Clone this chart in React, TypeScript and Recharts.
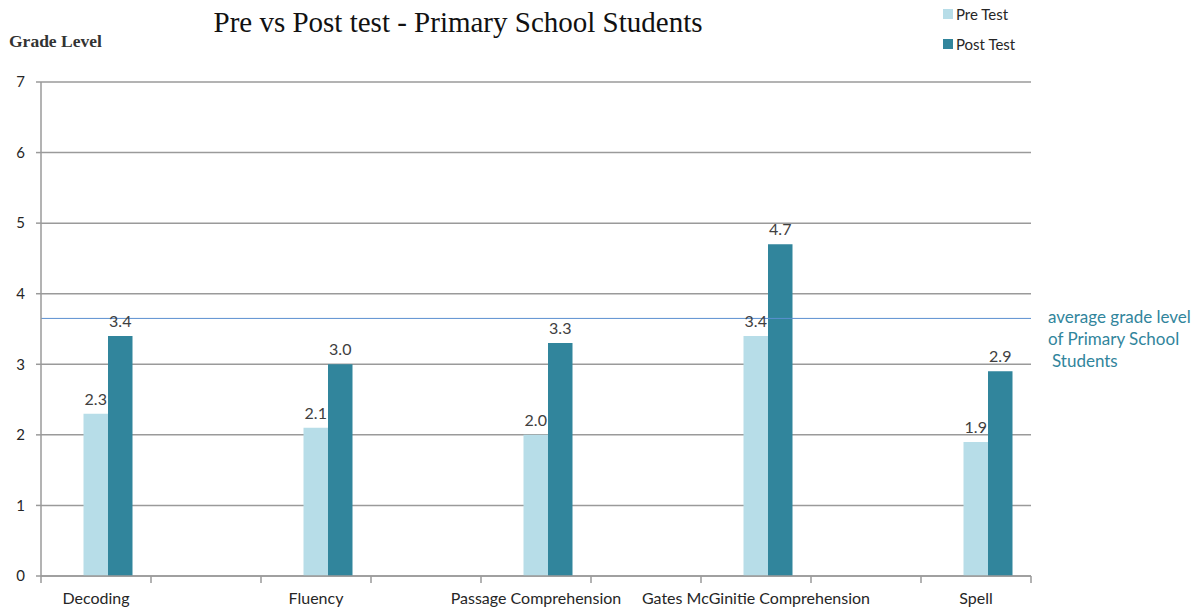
import { BarChart, Bar, XAxis, YAxis, CartesianGrid, ReferenceLine, LabelList } from "recharts";

const categories = ["Decoding", "Fluency", "Passage Comprehension", "Gates McGinitie Comprehension", "Spell"];
const preTest = [2.3, 2.1, 2.0, 3.4, 1.9];
const postTest = [3.4, 3.0, 3.3, 4.7, 2.9];
const yTicks = [0, 1, 2, 3, 4, 5, 6, 7];
const averageGrade = 3.65;

const PRE_COLOR = "#b7dde8";
const POST_COLOR = "#31859c";
const AXIS_COLOR = "#9a9a9a";
const TEXT_COLOR = "#262626";
const FONT = "Lato, 'Open Sans', sans-serif";

const CHART_W = 1200;
const CHART_H = 610;
const PLOT_LEFT = 41;
const PLOT_RIGHT = 1031;
const PLOT_TOP = 82;
const PLOT_BOTTOM = 576;

// empty slots between categories, like the spreadsheet layout
const rows = categories.flatMap((name, i) => {
  const row = { name, pre: preTest[i], post: postTest[i] };
  return i < categories.length - 1 ? [row, { name: "" }] : [row];
});
const BAND = (PLOT_RIGHT - PLOT_LEFT) / rows.length;

const XTick = (props: any) => {
  const { x, y, payload, index } = props;
  const isLast = index === rows.length - 1;
  return (
    <g>
      <line x1={x - BAND / 2} x2={x - BAND / 2} y1={y} y2={y + 7} stroke={AXIS_COLOR} strokeWidth={1.5} />
      {isLast && <line x1={x + BAND / 2} x2={x + BAND / 2} y1={y} y2={y + 7} stroke={AXIS_COLOR} strokeWidth={1.5} />}
      <text x={x} y={y + 28} textAnchor="middle" fontFamily={FONT} fontSize={16} fill={TEXT_COLOR}>
        {payload.value}
      </text>
    </g>
  );
};

const AverageLabel = (props: any) => {
  const { viewBox } = props;
  const x = viewBox.x + viewBox.width + 17;
  const y = viewBox.y;
  return (
    <text fontFamily={FONT} fontSize={17} fill={POST_COLOR}>
      <tspan x={x} y={y + 5}>average grade level</tspan>
      <tspan x={x} y={y + 27}>of Primary School</tspan>
      <tspan x={x + 4} y={y + 49}>Students</tspan>
    </text>
  );
};

const labelStyle = { fontFamily: FONT, fontSize: 16, fill: "#404040" };

export default function App() {
  return (
    <div style={{ position: "absolute", left: 0, top: 0, width: CHART_W, height: CHART_H, background: "#fff" }}>
      <div
        style={{
          position: "absolute",
          left: 0,
          top: 8,
          width: 916,
          textAlign: "center",
          fontFamily: "'Liberation Serif', serif",
          fontSize: 29,
          lineHeight: "29px",
          color: "#111",
        }}
      >
        Pre vs Post test - Primary School Students
      </div>
      <div
        style={{
          position: "absolute",
          left: 9,
          top: 33,
          fontFamily: "'Liberation Serif', serif",
          fontSize: 17.5,
          fontWeight: "bold",
          lineHeight: "17px",
          color: "#333",
        }}
      >
        Grade Level
      </div>
      <div style={{ position: "absolute", left: 943, top: 5, fontFamily: FONT, fontSize: 15, color: TEXT_COLOR }}>
        {[
          { label: "Pre Test", color: PRE_COLOR },
          { label: "Post Test", color: POST_COLOR },
        ].map((item) => (
          <div key={item.label} style={{ display: "flex", alignItems: "center", height: 18, marginBottom: 12 }}>
            <span style={{ width: 10, height: 10, background: item.color, marginRight: 3 }} />
            {item.label}
          </div>
        ))}
      </div>
      <BarChart
        width={CHART_W}
        height={CHART_H}
        data={rows}
        barGap={0}
        margin={{ top: PLOT_TOP, right: CHART_W - PLOT_RIGHT, bottom: CHART_H - PLOT_BOTTOM - 30, left: 0 }}
      >
        <CartesianGrid vertical={false} stroke={AXIS_COLOR} strokeWidth={1.5} />
        <XAxis
          dataKey="name"
          height={30}
          tick={<XTick />}
          tickLine={false}
          tickSize={0}
          tickMargin={0}
          interval={0}
          axisLine={{ stroke: AXIS_COLOR, strokeWidth: 1.5 }}
        />
        <YAxis
          width={PLOT_LEFT}
          domain={[0, 7]}
          ticks={yTicks}
          interval={0}
          tickSize={5}
          tickMargin={11}
          tickLine={{ stroke: AXIS_COLOR, strokeWidth: 1.5 }}
          axisLine={{ stroke: AXIS_COLOR, strokeWidth: 1.5 }}
          tick={{ fontFamily: FONT, fontSize: 15, fill: TEXT_COLOR }}
        />
        <ReferenceLine y={averageGrade} stroke="#5b8fd0" strokeWidth={1} label={<AverageLabel />} />
        <Bar dataKey="spacer" barSize={24.5} fill="none" isAnimationActive={false} />
        <Bar dataKey="pre" barSize={24.5} fill={PRE_COLOR} isAnimationActive={false}>
          <LabelList dataKey="pre" position="top" offset={9} formatter={(v: any) => (v == null ? "" : Number(v).toFixed(1))} style={labelStyle} />
        </Bar>
        <Bar dataKey="post" barSize={24.5} fill={POST_COLOR} isAnimationActive={false}>
          <LabelList dataKey="post" position="top" offset={9} formatter={(v: any) => (v == null ? "" : Number(v).toFixed(1))} style={labelStyle} />
        </Bar>
      </BarChart>
    </div>
  );
}
